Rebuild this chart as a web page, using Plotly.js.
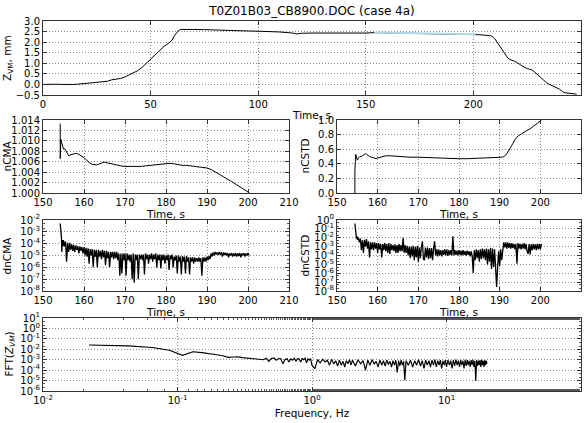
<!DOCTYPE html>
<html>
<head>
<meta charset="utf-8">
<script src="https://cdn.plot.ly/plotly-3.0.1.min.js"></script>
<style>html,body{margin:0;padding:0;background:#fff;}#chart{width:588px;height:423px;}</style>
</head>
<body>
<div id="chart"></div>
<script>
// ---------- Data ----------
var chartTitle = "T0Z01B03_CB8900.DOC (case 4a)";

// Top panel: Z_VM vs time (black, full record)
var tZvm = [0,2,4,6,8,10,12,14,16,18,20,22,24,26,28,30,32,34,36,38,40,42,44,46,48,50,52,54,56,58,60,61,62,63,64,66,68,70,75,80,85,90,95,100,105,110,113,116,118,120,125,130,135,140,145,150,154,160,170,180,190,195,200,201,203,205,207,208,209,210,211,212,213,214,215,216,217,218,219,220,221,222,223,224,225,226,227,228,229,230,231,232,233,234,235,236,237,238,239,240,241,242,243,244,245,246,247,248];
var zVm  = [0.0,0.01,0.0,0.01,0.0,-0.01,0.0,0.0,0.01,0.03,0.06,0.08,0.09,0.1,0.12,0.15,0.22,0.25,0.28,0.35,0.45,0.55,0.65,0.8,1.0,1.2,1.4,1.6,1.78,1.92,2.1,2.3,2.45,2.55,2.6,2.61,2.6,2.6,2.59,2.58,2.56,2.55,2.54,2.53,2.5,2.48,2.47,2.43,2.39,2.42,2.43,2.43,2.42,2.42,2.41,2.43,2.45,2.44,2.43,2.42,2.40,2.37,2.36,2.37,2.35,2.33,2.32,2.3,2.25,2.15,2.0,1.85,1.7,1.55,1.4,1.25,1.18,1.15,1.1,1.05,1.0,0.92,0.85,0.78,0.75,0.72,0.7,0.62,0.55,0.45,0.35,0.25,0.15,0.08,0.02,-0.03,-0.08,-0.12,-0.15,-0.22,-0.3,-0.38,-0.4,-0.42,-0.43,-0.44,-0.45,-0.46];
// Top panel: analysed window (light blue)
var tWin = [154,160,165,170,175,180,185,190,195,200,201];
var zWin = [2.46,2.45,2.44,2.43,2.43,2.42,2.41,2.40,2.38,2.37,2.37];

// nCMA
var tCMA = [154.2,154.2,154.35,154.5,154.7,155.0,155.3,155.6,156.0,156.3,156.6,157.0,157.5,158.0,158.5,159.0,159.5,160.0,160.5,161.0,161.5,162.0,162.5,163.0,163.5,164.0,164.5,165.0,165.5,166.0,167.0,168.0,169.0,170.0,171.0,172.0,173.0,174.0,175.0,176.0,177.0,178.0,179.0,180.0,181.0,182.0,183.0,184.0,185.0,186.0,187.0,188.0,189.0,190.0,191.0,192.0,193.0,194.0,195.0,196.0,197.0,198.0,199.0,200.0,200.4];
var nCMA = [1.0133,1.0066,1.0103,1.0098,1.0090,1.0084,1.0085,1.0080,1.0074,1.0071,1.0073,1.0074,1.0075,1.0076,1.0075,1.0073,1.0071,1.0068,1.0064,1.0060,1.0057,1.0055,1.0054,1.0054,1.0055,1.0057,1.0058,1.0059,1.0058,1.0057,1.0055,1.0053,1.0052,1.0051,1.0051,1.0050,1.0050,1.0051,1.0052,1.0053,1.0054,1.0055,1.0056,1.0057,1.0057,1.0056,1.0054,1.0053,1.0053,1.0052,1.0052,1.0051,1.0050,1.0048,1.0045,1.0041,1.0036,1.0031,1.0027,1.0022,1.0017,1.0012,1.0007,1.0002,1.0000];

// nCSTD
var tCSTD = [154.4,154.4,154.6,154.8,155.0,155.3,155.6,156.0,156.5,157.0,157.3,157.7,158.0,158.5,159.0,159.6,160,161,162,163,164,165,166,168,170,172,174,176,178,180,182,184,186,188,189,190,190.5,191,191.5,192,192.5,193,193.5,194,194.5,195,195.6,196.5,197.5,198.5,199.5,200.3];
var nCSTD = [0.0,0.30,0.53,0.50,0.45,0.48,0.50,0.50,0.52,0.54,0.53,0.51,0.50,0.49,0.48,0.47,0.48,0.50,0.51,0.51,0.505,0.50,0.50,0.49,0.49,0.485,0.485,0.48,0.475,0.47,0.47,0.475,0.475,0.475,0.48,0.485,0.49,0.50,0.52,0.56,0.61,0.66,0.71,0.75,0.78,0.80,0.82,0.85,0.88,0.92,0.96,1.0];

// Sample times of the dnCMA / dnCSTD records after the start-up transient
var tGrid = [155.0,155.25,155.5,155.75,156.0,156.25,156.5,156.75,157.0,157.25,157.5,157.75,158.0,158.25,158.5,158.75,159.0,159.25,159.5,159.75,
160.0,160.25,160.5,160.75,161.0,161.25,161.5,161.75,162.0,162.25,162.5,162.75,163.0,163.25,163.5,163.75,164.0,164.25,164.5,164.75,
165.0,165.25,165.5,165.75,166.0,166.25,166.5,166.75,167.0,167.25,167.5,167.75,168.0,168.25,168.5,168.75,169.0,169.25,169.5,169.75,
170.0,170.25,170.5,170.75,171.0,171.25,171.5,171.75,172.0,172.25,172.5,172.75,173.0,173.25,173.5,173.75,174.0,174.25,174.5,174.75,
175.0,175.25,175.5,175.75,176.0,176.25,176.5,176.75,177.0,177.25,177.5,177.75,178.0,178.25,178.5,178.75,179.0,179.25,179.5,179.75,
180.0,180.25,180.5,180.75,181.0,181.25,181.5,181.75,182.0,182.25,182.5,182.75,183.0,183.25,183.5,183.75,184.0,184.25,184.5,184.75,
185.0,185.25,185.5,185.75,186.0,186.25,186.5,186.75,187.0,187.25,187.5,187.75,188.0,188.25,188.5,188.75,189.0,189.25,189.5,189.75,
190.0,190.25,190.5,190.75,191.0,191.25,191.5,191.75,192.0,192.25,192.5,192.75,193.0,193.25,193.5,193.75,194.0,194.25,194.5,194.75,
195.0,195.25,195.5,195.75,196.0,196.25,196.5,196.75,197.0,197.25,197.5,197.75,198.0,198.25,198.5,198.75,199.0,199.25,199.5,199.75,
200.0,200.25];

// dnCMA
var tdCMAStart = [154.2,154.3,154.4,154.5,154.6,154.7,154.8,154.9];
var dnCMAStart = [5e-3,3e-3,8e-4,3e-4,2e-5,2e-4,1.5e-4,6e-5];
var dnCMA = [2e-4,6e-5,1.5e-4,3e-6,1.2e-4,2e-5,1.1e-4,3e-5,9e-5,2.5e-5,8e-5,2e-5,7e-5,3e-5,6e-5,1.5e-5,6e-5,2.5e-5,5e-5,1.5e-5,
5e-5,1e-5,4.5e-5,8e-6,4e-5,2e-6,3.5e-5,1e-5,3.5e-5,1e-6,3e-5,8e-6,3e-5,1e-6,3e-5,8e-6,2.5e-5,5e-6,3e-5,7e-6,
2.5e-5,1.5e-6,2.5e-5,6e-6,2e-5,1e-6,2e-5,7e-6,2e-5,5e-6,2e-5,6e-6,2e-5,4e-6,1.5e-5,2e-7,1.5e-5,3e-7,1.5e-5,4e-6,
1.5e-5,2e-7,1.5e-5,4e-6,1.2e-5,3e-6,1.2e-5,1e-7,1.5e-5,5e-8,1.2e-5,4e-6,1.2e-5,1e-7,1.2e-5,5e-6,1.2e-5,4e-6,1.2e-5,2.5e-7,
1.5e-5,5e-6,1.2e-5,2e-6,1.2e-5,5e-6,1.5e-5,3e-6,1.2e-5,5e-6,1.5e-5,1e-6,1.2e-5,4e-6,1.2e-5,8e-7,1.2e-5,4e-6,1.2e-5,2e-6,
1e-5,4e-6,1.2e-5,6e-7,1e-5,5e-6,1.2e-5,1e-6,8e-6,4e-6,1e-5,3e-7,1e-5,3e-6,8e-6,2.5e-7,9e-6,3e-6,8e-6,3e-7,
9e-6,3e-6,7e-6,2.5e-7,7e-6,3e-6,7e-6,2e-6,7e-6,3e-6,6e-6,3e-6,7e-6,3e-6,6e-6,2e-7,7e-6,3e-6,7e-6,3e-6,
8e-6,4e-6,9e-6,5e-6,1.5e-5,8e-6,1.8e-5,1e-5,2e-5,1.2e-5,1.8e-5,1.1e-5,2e-5,1.2e-5,1.8e-5,8e-6,1.8e-5,1.1e-5,1.7e-5,1e-5,
1.6e-5,7e-6,1.5e-5,1e-5,1.6e-5,8e-6,1.5e-5,9e-6,1.6e-5,8e-6,1.5e-5,9e-6,1.6e-5,7e-6,1.5e-5,1e-5,1.6e-5,8e-6,1.5e-5,1e-5,
1.6e-5,1e-5];

// dnCSTD
var tdCSTDStart = [154.4,154.5,154.6,154.7,154.8,154.9];
var dnCSTDStart = [0.4,0.1,0.03,0.02,0.008,0.015];
var dnCSTD = [0.006,0.01,0.003,0.008,4e-4,0.005,2e-4,0.006,0.001,0.007,6e-4,0.004,6e-5,0.003,5e-4,0.003,4e-4,0.003,6e-4,0.0025,
2e-4,0.0025,5e-4,0.002,6e-5,0.002,4e-4,0.0025,3e-4,0.002,2e-4,0.0025,1.5e-4,0.002,4e-4,0.0015,3e-4,0.0018,2e-4,0.0015,
2e-4,0.002,3e-4,0.0015,3e-4,0.01,2e-4,0.0015,2e-4,0.0012,1e-4,0.001,5e-5,0.001,8e-5,0.0012,3e-5,9e-4,6e-5,0.0012,
2e-5,8e-4,5e-5,9e-4,0.004,4e-5,3e-5,8e-4,6e-5,8e-4,4e-5,7e-4,5e-5,7e-4,3e-5,6e-4,0.004,1e-4,5e-4,8e-5,
5e-4,1e-4,4e-4,8e-5,4e-4,1.2e-4,5e-4,1e-4,5e-4,9e-5,4e-4,1.1e-4,4e-4,1e-4,0.015,1e-4,4e-4,1.2e-4,3.5e-4,1e-4,
4e-4,1.2e-4,3.5e-4,1e-4,4e-4,1.2e-4,3e-4,1e-4,3.5e-4,1.2e-4,3e-4,8e-5,3e-4,8e-5,1.1e-6,4e-4,3e-5,5e-4,5e-5,4e-4,
2e-5,5e-4,4e-5,6e-4,5e-5,5e-4,3e-5,6e-4,1e-5,5e-4,2e-5,7e-4,3e-6,6e-4,5e-6,5e-4,1e-6,2.8e-8,5e-6,3e-4,
6e-6,5e-4,3e-5,0.001,0.003,8e-4,0.003,6e-4,0.003,7e-4,0.0025,6e-4,0.0025,7e-4,0.002,5e-4,0.002,1.2e-5,0.0025,6e-4,
0.002,5e-4,0.002,6e-4,0.0025,5e-4,0.002,3e-4,1.5e-4,0.002,1.3e-4,0.0018,4e-4,0.002,5e-4,0.0018,4e-4,0.002,5e-4,0.002,
5e-4,0.002];

// FFT(Z_VM)
var freq = [0.022,0.043,0.065,0.087,0.109,0.130,0.152,0.174,0.195,0.217,0.239,0.260,0.282,0.304,0.326,0.347,0.369,0.391,0.412,0.434,0.456,0.477,0.499,0.521,0.543,0.564,0.586,0.608,0.629,0.651,0.673,0.694,0.716,0.738,0.760,0.781,0.803,0.825,0.846,0.868,0.890,0.911,0.933,0.955,0.977,0.998,
  1.05,1.1,1.15,1.2,1.25,1.3,1.35,1.4,1.45,1.5,1.55,1.6,1.65,1.7,1.75,1.8,1.85,1.9,1.95,2.0,
  2.1,2.2,2.3,2.4,2.5,2.6,2.7,2.8,2.9,3.0,3.1,3.2,3.3,3.4,3.5,3.6,3.7,3.8,3.9,4.0,4.1,4.2,4.3,4.4,4.5,4.6,4.7,4.8,4.9,5.0,
  5.2,5.4,5.6,5.8,6.0,6.2,6.4,6.6,6.8,7.0,7.2,7.4,7.6,7.8,8.0,8.2,8.4,8.6,8.8,9.0,9.2,9.4,9.6,9.8,10.0,
  10.25,10.5,10.75,11.0,11.25,11.5,11.75,12.0,12.25,12.5,12.75,13.0,13.25,13.5,13.75,14.0,14.25,14.5,14.75,15.0,15.25,15.5,15.75,16.0,16.25,16.5,16.75,17.0,17.25,17.5,17.75,18.0,18.25,18.5,18.75,19.0,19.25,19.5,19.75,20.0];
var fftZvm = [0.026,0.021,0.015,0.008,0.0026,0.0058,0.0048,0.0040,0.0030,0.0024,0.0017,0.0018,0.0019,0.0016,0.0015,0.0014,0.0013,0.0012,0.0011,0.0010,0.0014,0.0007,0.0013,0.0015,0.0009,0.0013,0.0012,0.0004,0.0010,0.0013,0.0006,0.0012,0.0009,0.0014,0.0007,0.0013,0.0011,0.0006,0.0013,0.0010,0.0014,0.0005,0.0012,0.0009,0.0013,0.0003,
  1.4e-4,1.0e-3,5e-4,1.1e-3,6e-4,9e-4,3e-4,1.1e-3,4e-4,8e-4,2.5e-4,9e-4,3e-4,7e-4,2e-4,8e-4,4e-4,1.0e-3,3e-4,9e-4,
  2.5e-4,1.0e-3,4e-4,8e-4,1.0e-4,9e-4,3e-4,1.0e-3,4e-4,7e-4,2e-4,9e-4,3e-4,8e-4,2.5e-4,9e-4,3.5e-4,7e-4,2e-4,8e-4,3e-4,9e-4,6e-5,8e-4,2.5e-4,9e-4,3e-4,7e-4,1.1e-5,8e-4,
  3e-4,9e-4,2e-4,8e-4,3e-4,1.0e-3,2.5e-4,8e-4,1.5e-4,9e-4,3e-4,8e-4,2e-4,9e-4,3e-4,1.0e-3,2e-4,8e-4,3e-4,9e-4,1.5e-4,8e-4,3e-4,9e-4,2e-4,
  9e-4,3e-4,8e-4,1.5e-4,9e-4,2.5e-4,1.0e-3,3e-4,8e-4,2e-4,9e-4,3e-4,8e-4,1.5e-4,1.0e-3,2.5e-4,9e-4,3e-4,8e-4,2e-4,9e-4,3e-4,1.0e-3,2e-4,8e-4,9e-6,9e-4,2.5e-4,8e-4,3e-4,9e-4,2e-4,1.0e-3,3e-4,8e-4,2e-4,9e-4,3e-4,8e-4,4e-4];

// Tick labels
var tickTop = [0,50,100,150,200,250];
var tickTime = [150,160,170,180,190,200,210];
var logTicksCMA = [1e-8,1e-7,1e-6,1e-5,1e-4,1e-3,1e-2];
var logTextCMA = ["10<sup>-8</sup>","10<sup>-7</sup>","10<sup>-6</sup>","10<sup>-5</sup>","10<sup>-4</sup>","10<sup>-3</sup>","10<sup>-2</sup>"];
var logTicksCSTD = [1e-8,1e-7,1e-6,1e-5,1e-4,1e-3,1e-2,1e-1,1];
var logTextCSTD = ["10<sup>-8</sup>","10<sup>-7</sup>","10<sup>-6</sup>","10<sup>-5</sup>","10<sup>-4</sup>","10<sup>-3</sup>","10<sup>-2</sup>","10<sup>-1</sup>","10<sup>0</sup>"];
var logTicksFFT = [1e-6,1e-5,1e-4,1e-3,1e-2,1e-1,1,10];
var logTextFFT = ["10<sup>-6</sup>","10<sup>-5</sup>","10<sup>-4</sup>","10<sup>-3</sup>","10<sup>-2</sup>","10<sup>-1</sup>","10<sup>0</sup>","10<sup>1</sup>"];
var logTicksFreq = [0.01,0.1,1,10,100];
var logTextFreq = ["10<sup>-2</sup>","10<sup>-1</sup>","10<sup>0</sup>","10<sup>1</sup>","10<sup>2</sup>"];

// ---------- Plot ----------
var FONT = "DejaVu Sans, Liberation Sans, sans-serif";
var lineK = {color:"#000", width:1};
var lineDense = {color:"#000", width:1.3};
var traces = [
  {x:tZvm, y:zVm, type:"scatter", mode:"lines", line:lineK, xaxis:"x", yaxis:"y"},
  {x:tWin, y:zWin, type:"scatter", mode:"lines", line:{color:"#add8e6", width:2}, xaxis:"x", yaxis:"y"},
  {x:tCMA, y:nCMA, type:"scatter", mode:"lines", line:lineK, xaxis:"x2", yaxis:"y2"},
  {x:tCSTD, y:nCSTD, type:"scatter", mode:"lines", line:lineK, xaxis:"x3", yaxis:"y3"},
  {x:tdCMAStart.concat(tGrid), y:dnCMAStart.concat(dnCMA), type:"scatter", mode:"lines", line:lineDense, xaxis:"x4", yaxis:"y4"},
  {x:tdCSTDStart.concat(tGrid), y:dnCSTDStart.concat(dnCSTD), type:"scatter", mode:"lines", line:lineDense, xaxis:"x5", yaxis:"y5"},
  {x:freq, y:fftZvm, type:"scatter", mode:"lines", line:{color:"#000", width:1.15}, xaxis:"x6", yaxis:"y6"}
];

function ax(o){
  var base = {
    showline:true, linecolor:"#333", linewidth:1, mirror:"ticks",
    ticks:"inside", ticklen:4, tickcolor:"#333", tickwidth:1,
    showgrid:true, gridcolor:"#8a8a8a", griddash:"1px,2px", gridwidth:1,
    zeroline:false, automargin:false, fixedrange:true,
    tickfont:{family:FONT, size:10, color:"#000"}
  };
  for (var k in o) base[k] = o[k];
  return base;
}
function px(x){return x/588;}
function py(y){return 1 - y/423;}
var logMinor = {ticks:"inside", ticklen:2, tickcolor:"#555", showgrid:false};
var xTitle = function(t, s){ return {text:t, standoff:s, font:{family:FONT, size:10.5, color:"#000"}}; };

// y-axis titles drawn as rotated annotations at the reference positions
function yTitle(text, xPix, yTop, yBot){
  return {text:text, xref:"paper", yref:"paper", x:px(xPix), y:(py(yTop)+py(yBot))/2,
          xanchor:"center", yanchor:"middle", textangle:-90, showarrow:false,
          font:{family:FONT, size:10.5, color:"#000"}};
}

var layout = {
  width:588, height:423,
  margin:{l:0,r:0,t:0,b:0},
  paper_bgcolor:"#fff", plot_bgcolor:"#fff",
  showlegend:false,
  font:{family:FONT, size:10, color:"#000"},
  title:{text:chartTitle, font:{family:FONT, size:12, color:"#000"}, x:px(312), xanchor:"center", y:py(11), yanchor:"middle"},
  xaxis: ax({domain:[px(43),px(581)], range:[0,250], tickmode:"array", tickvals:tickTop, anchor:"y", title:xTitle("Time, s",2)}),
  yaxis: ax({domain:[py(95),py(21)], range:[-0.5,3.0], dtick:0.5, tickformat:".1f", anchor:"x"}),
  xaxis2: ax({domain:[px(43),px(289)], range:[150,210], tickmode:"array", tickvals:tickTime, anchor:"y2", title:xTitle("Time, s",2)}),
  yaxis2: ax({domain:[py(193),py(120)], range:[1.0,1.014], dtick:0.002, tickformat:".3f", anchor:"x2"}),
  xaxis3: ax({domain:[px(337),px(581)], range:[150,210], tickmode:"array", tickvals:tickTime, anchor:"y3", title:xTitle("Time, s",2)}),
  yaxis3: ax({domain:[py(193),py(120)], range:[0,1], dtick:0.2, tickformat:".1f", anchor:"x3"}),
  xaxis4: ax({domain:[px(43),px(289)], range:[150,210], tickmode:"array", tickvals:tickTime, anchor:"y4", title:xTitle("Time, s",2)}),
  yaxis4: ax({domain:[py(291),py(220)], type:"log", range:[-8,-2], tickmode:"array", tickvals:logTicksCMA, ticktext:logTextCMA, minor:logMinor, anchor:"x4"}),
  xaxis5: ax({domain:[px(337),px(581)], range:[150,210], tickmode:"array", tickvals:tickTime, anchor:"y5", title:xTitle("Time, s",2)}),
  yaxis5: ax({domain:[py(291),py(220)], type:"log", range:[-8,0], tickmode:"array", tickvals:logTicksCSTD, ticktext:logTextCSTD, minor:logMinor, anchor:"x5"}),
  xaxis6: ax({domain:[px(43),px(581)], type:"log", range:[-2,2], tickmode:"array", tickvals:logTicksFreq, ticktext:logTextFreq, minor:logMinor, anchor:"y6", title:xTitle("Frequency, Hz",4)}),
  yaxis6: ax({domain:[py(391),py(318)], type:"log", range:[-6,1], tickmode:"array", tickvals:logTicksFFT, ticktext:logTextFFT, minor:logMinor, anchor:"x6"}),
  annotations: [
    yTitle("Z<sub>VM</sub>, mm", 8, 21, 95),
    yTitle("nCMA", 7, 120, 193),
    yTitle("nCSTD", 305, 120, 193),
    yTitle("dnCMA", 7, 220, 291),
    yTitle("dnCSTD", 305, 220, 291),
    yTitle("FFT(<i>Z<sub>VM</sub></i>)", 9, 318, 391)
  ]
};

Plotly.newPlot("chart", traces, layout, {staticPlot:true, displayModeBar:false});
</script>
</body>
</html>
